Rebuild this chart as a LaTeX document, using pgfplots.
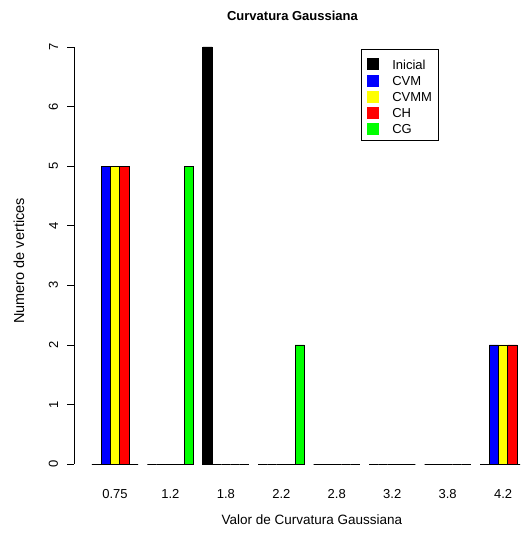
\documentclass[border=0pt]{standalone}
\usepackage{pgfplots}
\pgfplotsset{compat=1.18}
\usepackage{fontspec}
\setmainfont{Liberation Sans}
\definecolor{rblue}{RGB}{0,0,255}
\definecolor{ryellow}{RGB}{255,255,0}
\definecolor{rred}{RGB}{255,0,0}
\definecolor{rgreen}{RGB}{0,255,0}
\begin{document}
\begin{tikzpicture}[x=1pt,y=1pt]
\path[use as bounding box, clip] (0,0) rectangle (520,535);
\begin{axis}[
  at={(74.3pt,54.3pt)}, anchor=south west,
  scale only axis, width=469.5pt, height=450.4pt,
  xmin=-0.7333, xmax=7.7333, ymin=-0.28, ymax=7.28,
  clip=false,
  axis lines*=left,
  axis line style={draw=none},
  font=\fontsize{13}{15}\selectfont,
  xtick={0,1,2,3,4,5,6,7},
  xticklabels={0.75,1.2,1.8,2.2,2.8,3.2,3.8,4.2},
  x tick style={draw=none},
  xticklabel style={anchor=base, inner sep=0pt, yshift=-11pt},
  ytick={0,1,2,3,4,5,6,7},
  yticklabels={0,1,2,3,4,5,6,7},
  y tick style={black, line width=0.6pt},
  tick align=outside, major tick length=7pt,
  yticklabel style={rotate=90, anchor=south, inner sep=0pt},
  yticklabel shift=9pt,
  title={Curvatura Gaussiana},
  title style={at={(rel axis cs:0.4647,1)}, anchor=base, yshift=4pt, font=\fontsize{13}{15}\selectfont\bfseries},
  xlabel={Valor de Curvatura Gaussiana},
  xlabel style={at={(rel axis cs:0.506,0)}, anchor=base, yshift=-43.8pt, font=\fontsize{13.5}{15}\selectfont},
  ylabel={Numero de vertices},
  ylabel style={at={(rel axis cs:-0.1177,0.4878)}, anchor=center, rotate=0, font=\fontsize{14.5}{16}\selectfont},
  ybar, bar width=0.16667,
  legend style={at={(axis cs:4.428,6.966)}, anchor=north west, draw=black, line width=0.6pt,
    inner xsep=6.5pt, inner ysep=5pt, row sep=0pt,
    nodes={inner sep=0pt, text height=14.7pt, text depth=0pt, anchor=base west},
    /tikz/every odd column/.append style={column sep=13pt}},
  legend cell align=left,
  legend image code/.code={\path[#1, draw=none] (0pt,-1.4pt) rectangle (12pt,10.6pt);},
]
\addplot[fill=black, draw=black, line width=0.6pt, bar shift=-0.33333] coordinates {(0,0) (1,0) (2,7) (3,0) (4,0) (5,0) (6,0) (7,0)};
\addplot[fill=rblue, draw=black, line width=0.6pt, bar shift=-0.16667] coordinates {(0,5) (1,0) (2,0) (3,0) (4,0) (5,0) (6,0) (7,2)};
\addplot[fill=ryellow, draw=black, line width=0.6pt, bar shift=0] coordinates {(0,5) (1,0) (2,0) (3,0) (4,0) (5,0) (6,0) (7,2)};
\addplot[fill=rred, draw=black, line width=0.6pt, bar shift=0.16667] coordinates {(0,5) (1,0) (2,0) (3,0) (4,0) (5,0) (6,0) (7,2)};
\addplot[fill=rgreen, draw=black, line width=0.6pt, bar shift=0.33333] coordinates {(0,0) (1,5) (2,0) (3,2) (4,0) (5,0) (6,0) (7,0)};
\legend{Inicial,CVM,CVMM,CH,CG}
\draw[line width=0.6pt] (axis cs:-0.7333,0) -- (axis cs:-0.7333,7);
\end{axis}
\end{tikzpicture}
\end{document}
